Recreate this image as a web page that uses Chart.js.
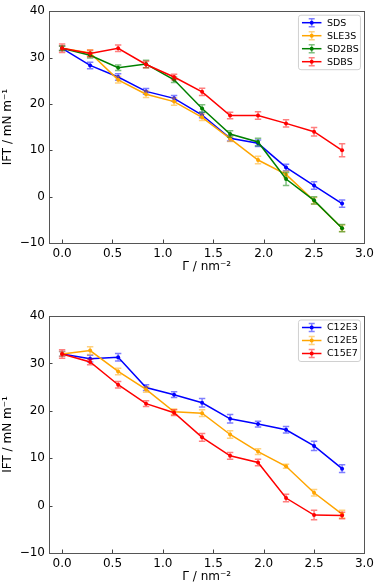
<!DOCTYPE html>
<html><head><meta charset="utf-8">
<script src="https://cdn.jsdelivr.net/npm/chart.js@4"></script>
<style>
html,body{margin:0;padding:0;background:#fff;}
#wrap{position:relative;width:378px;height:585px;overflow:hidden;}
canvas{position:absolute;left:0;}
</style></head><body>
<div id="wrap">
<canvas id="c1" width="378" height="275" style="top:0px"></canvas>
<canvas id="c2" width="378" height="310" style="top:275px"></canvas>
</div>
<script>
// ---- data ----
const gammaValues = [0, 0.278, 0.556, 0.833, 1.111, 1.389, 1.667, 1.944, 2.222, 2.5, 2.778];
const xTickValues = [0, 0.5, 1.0, 1.5, 2.0, 2.5, 3.0];
const yTickValues = [-10, 0, 10, 20, 30, 40];

const topNames = ['SDS', 'SLE3S', 'SD2BS', 'SDBS'];
const sdsIFT   = [32.0, 28.3, 25.8, 22.7, 21.2, 17.6, 12.6, 11.5, 6.3, 2.4, -1.5];
const sdsErr   = [0.5, 0.7, 0.7, 0.6, 0.6, 0.6, 0.6, 0.7, 0.7, 0.8, 0.8];
const sle3sIFT = [32.0, 31.0, 25.2, 22.1, 20.5, 17.1, 12.5, 7.9, 4.8, -0.9, -6.8];
const sle3sErr = [0.5, 0.7, 0.7, 0.7, 0.8, 0.7, 0.6, 0.8, 0.7, 0.7, 0.7];
const sd2bsIFT = [32.0, 30.5, 27.8, 28.6, 25.2, 19.0, 13.5, 11.8, 3.8, -0.8, -6.8];
const sd2bsErr = [0.5, 0.6, 0.6, 0.8, 0.6, 0.8, 0.7, 0.8, 1.4, 0.8, 0.8];
const sdbsIFT  = [32.0, 30.9, 32.0, 28.5, 25.8, 22.6, 17.5, 17.5, 15.8, 14.0, 10.0];
const sdbsErr  = [0.9, 0.7, 0.7, 0.7, 0.6, 0.8, 0.7, 0.8, 0.8, 0.9, 1.4];

const bottomNames = ['C12E3', 'C12E5', 'C15E7'];
const c12e3IFT = [32.0, 31.0, 31.3, 24.9, 23.4, 21.7, 18.3, 17.2, 16.0, 12.6, 7.8];
const c12e3Err = [0.5, 0.7, 0.8, 0.6, 0.6, 0.9, 0.9, 0.6, 0.7, 1.0, 0.8];
const c12e5IFT = [32.0, 32.7, 28.3, 24.5, 19.8, 19.5, 15.0, 11.4, 8.3, 2.7, -1.8];
const c12e5Err = [0.5, 0.8, 0.7, 0.6, 0.6, 0.7, 0.8, 0.6, 0.4, 0.7, 0.8];
const c15e7IFT = [32.0, 30.3, 25.5, 21.5, 19.6, 14.4, 10.5, 9.1, 1.6, -2.0, -2.1];
const c15e7Err = [0.9, 0.6, 0.7, 0.6, 0.6, 0.8, 0.7, 0.7, 0.8, 1.0, 0.7];

const xTitle = '\u0393 / nm\u207B\u00B2';
const yTitle = 'IFT / mN m\u207B\u00B9';

// ---- styling ----
const COLORS = { blue: '#0000ff', orange: '#ffa500', green: '#008000', red: '#ff0000' };
const FONT = 'DejaVu Sans';

function makeDatasets(names, values, errs, colors) {
  return names.map((n, i) => ({
    label: n,
    data: gammaValues.map((x, k) => ({ x: x, y: values[i][k] })),
    errors: errs[i],
    borderColor: colors[i],
    backgroundColor: colors[i],
    borderWidth: 1.5,
    pointRadius: 2,
    pointBorderWidth: 0,
    pointBackgroundColor: colors[i],
    tension: 0,
    order: names.length - i
  }));
}

const decorPlugin = {
  id: 'decor',
  afterDatasetDraw(chart, args) {
    const ds = chart.data.datasets[args.index];
    const xs = chart.scales.x, ys = chart.scales.y;
    const ctx = chart.ctx;
    ctx.save();
    ctx.globalAlpha = 0.5;
    ctx.strokeStyle = ds.borderColor;
    ctx.lineWidth = 1.5;
    ds.data.forEach((p, k) => {
      const e = ds.errors[k];
      const px = xs.getPixelForValue(p.x);
      const y1 = ys.getPixelForValue(p.y + e);
      const y2 = ys.getPixelForValue(p.y - e);
      ctx.beginPath();
      ctx.moveTo(px, y1); ctx.lineTo(px, y2);
      ctx.moveTo(px - 3.2, y1); ctx.lineTo(px + 3.2, y1);
      ctx.moveTo(px - 3.2, y2); ctx.lineTo(px + 3.2, y2);
      ctx.stroke();
    });
    ctx.restore();
  },
  afterDraw(chart) {
    const ctx = chart.ctx;
    const a = chart.chartArea;
    const xs = chart.scales.x, ys = chart.scales.y;
    ctx.save();
    // ticks (inward)
    ctx.strokeStyle = '#444';
    ctx.lineWidth = 1;
    xTickValues.forEach(v => {
      const px = Math.round(xs.getPixelForValue(v)) + 0.5;
      ctx.beginPath(); ctx.moveTo(px, a.bottom); ctx.lineTo(px, a.bottom - 3.5); ctx.stroke();
    });
    yTickValues.forEach(v => {
      const py = Math.round(ys.getPixelForValue(v)) + 0.5;
      ctx.beginPath(); ctx.moveTo(a.left, py); ctx.lineTo(a.left + 3.5, py); ctx.stroke();
    });
    // frame
    ctx.strokeStyle = '#555';
    ctx.lineWidth = 1;
    ctx.strokeRect(Math.round(a.left) + 0.5, Math.round(a.top) + 0.5,
                   Math.round(a.right - a.left), Math.round(a.bottom - a.top));
    // legend
    const dss = chart.data.datasets;
    const n = dss.length;
    const bw = 62, bh = 15.5 + (n - 1) * 13;
    const bx = a.right - 4.5 - bw, by = a.top + 3.5;
    ctx.beginPath();
    ctx.roundRect(bx + 0.5, by + 0.5, bw, bh, 2.5);
    ctx.fillStyle = 'rgba(255,255,255,0.85)';
    ctx.fill();
    ctx.strokeStyle = '#d0d0d0';
    ctx.stroke();
    ctx.font = '9.5px "' + FONT + '"';
    ctx.textBaseline = 'middle';
    ctx.textAlign = 'left';
    dss.forEach((ds, i) => {
      const ry = by + 8 + i * 13;
      const lx1 = bx + 4, lx2 = bx + 23.5, cx = (lx1 + lx2) / 2;
      ctx.strokeStyle = ds.borderColor;
      ctx.lineWidth = 1.5;
      ctx.beginPath(); ctx.moveTo(lx1, ry); ctx.lineTo(lx2, ry); ctx.stroke();
      ctx.globalAlpha = 0.5;
      ctx.beginPath();
      ctx.moveTo(cx, ry - 4); ctx.lineTo(cx, ry + 4);
      ctx.moveTo(cx - 3, ry - 4); ctx.lineTo(cx + 3, ry - 4);
      ctx.moveTo(cx - 3, ry + 4); ctx.lineTo(cx + 3, ry + 4);
      ctx.stroke();
      ctx.globalAlpha = 1;
      ctx.fillStyle = ds.borderColor;
      ctx.beginPath(); ctx.arc(cx, ry, 2, 0, Math.PI * 2); ctx.fill();
      ctx.fillStyle = '#000';
      ctx.fillText(ds.label, bx + 29, ry + 0.5);
    });
    ctx.restore();
  }
};

function makeChart(id, datasets, padTop) {
  return new Chart(document.getElementById(id), {
    type: 'line',
    data: { datasets: datasets },
    options: {
      responsive: false,
      animation: false,
      devicePixelRatio: 1,
      layout: { padding: { top: padTop, right: 11, left: 0, bottom: 0 } },
      plugins: { legend: { display: false }, tooltip: { enabled: false } },
      scales: {
        x: {
          type: 'linear', min: -0.13, max: 3.0,
          afterBuildTicks: s => { s.ticks = xTickValues.map(v => ({ value: v })); },
          afterFit: s => { s.height = 32; },
          grid: { display: false, drawTicks: false },
          border: { display: false },
          ticks: { autoSkip: false, maxRotation: 0, padding: 4, color: '#000',
                   font: { family: FONT, size: 12 }, callback: v => Number(v).toFixed(1) },
          title: { display: true, text: xTitle, color: '#000',
                   font: { family: FONT, size: 12 }, padding: { top: 0, bottom: 1 } }
        },
        y: {
          type: 'linear', min: -10, max: 40,
          afterBuildTicks: s => { s.ticks = yTickValues.map(v => ({ value: v })); },
          afterFit: s => { s.width = 49; },
          grid: { display: false, drawTicks: false },
          border: { display: false },
          ticks: { autoSkip: false, padding: 4, color: '#000',
                   font: { family: FONT, size: 12 },
                   callback: v => v < 0 ? '\u2212' + Math.abs(v) : String(v) },
          title: { display: true, text: yTitle, color: '#000',
                   font: { family: FONT, size: 12 }, padding: { top: 1, bottom: 0 } }
        }
      }
    },
    plugins: [decorPlugin]
  });
}

makeChart('c1', makeDatasets(topNames, [sdsIFT, sle3sIFT, sd2bsIFT, sdbsIFT],
  [sdsErr, sle3sErr, sd2bsErr, sdbsErr],
  [COLORS.blue, COLORS.orange, COLORS.green, COLORS.red]), 6);
makeChart('c2', makeDatasets(bottomNames, [c12e3IFT, c12e5IFT, c15e7IFT],
  [c12e3Err, c12e5Err, c15e7Err],
  [COLORS.blue, COLORS.orange, COLORS.red]), 41);
</script>
</body></html>
